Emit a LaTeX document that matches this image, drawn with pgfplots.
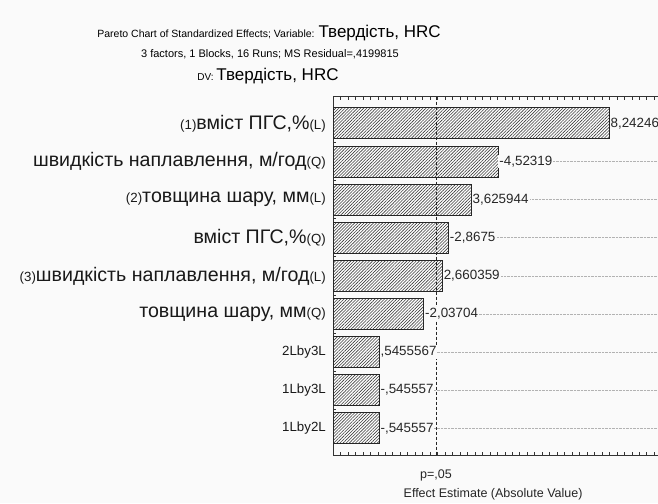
\documentclass[border=0pt]{standalone}
\usepackage{pgfplots}
\pgfplotsset{compat=1.18}
\usepackage{pgfplotstable}
\usetikzlibrary{patterns,patterns.meta}
\usepackage{fontspec}
\setmainfont{Liberation Sans}
\definecolor{bgc}{RGB}{250,250,250}
\definecolor{hatch}{RGB}{60,60,60}
\newcommand\sm[1]{{\fontsize{13.3pt}{14pt}\selectfont #1}}
\newcommand\Lg[1]{{\fontsize{19.6pt}{20pt}\selectfont #1}}
\pgfplotstableread{
pos v lab
1 8.24246 8,24246
2 4.52319 -4,52319
3 3.625944 3,625944
4 2.8675 -2,8675
5 2.660359 2,660359
6 2.03704 -2,03704
7 0.5455567 ,5455567
8 0.545557 -,545557
9 0.545557 -,545557
}\effects
\begin{document}
\begin{tikzpicture}[x=1pt,y=1pt]
\useasboundingbox (0,0) rectangle (658,503);
\fill[bgc] (0,0) rectangle (658,503);
% title
\node[anchor=base, inner sep=0pt] at (269,465) {\fontsize{10.5pt}{11pt}\selectfont Pareto Chart of Standardized Effects; Variable: \fontsize{17pt}{18pt}\selectfont Твердість, HRC};
\node[anchor=base, inner sep=0pt] at (270,445) {\fontsize{11pt}{12pt}\selectfont 3 factors, 1 Blocks, 16 Runs; MS Residual=,4199815};
\node[anchor=base, inner sep=0pt] at (268,422.5) {\fontsize{10pt}{11pt}\selectfont DV: \fontsize{17pt}{18pt}\selectfont Твердість, HRC};
\begin{axis}[
  at={(333pt,48pt)}, anchor=south west,
  scale only axis, width=328.7pt, height=358.3pt,
  xmin=0, xmax=11, ymin=0.3, ymax=9.7, y dir=reverse,
  clip=false,
  axis background/.style={fill=bgc},
  axis line style={black!80, line width=0.8pt},
  xtick={0,...,11}, minor x tick num=3, xticklabels={},
  ytick={1,...,9}, minor y tick num=3,
  tick align=inside, major tick length=3pt, minor tick length=3pt,
  tick style={black!80, line width=0.6pt},
  xtick pos=both, ytick pos=left,
  ymajorgrids, grid style={densely dotted, black!30, line width=0.5pt},
  yticklabels={
    {\sm{(1)}\Lg{вміст ПГС,\%}\sm{(L)}},
    {\Lg{швидкість наплавлення, м/год}\sm{(Q)}},
    {\sm{(2)}\Lg{товщина шару, мм}\sm{(L)}},
    {\Lg{вміст ПГС,\%}\sm{(Q)}},
    {\sm{(3)}\Lg{швидкість наплавлення, м/год}\sm{(L)}},
    {\Lg{товщина шару, мм}\sm{(Q)}},
    {\sm{2Lby3L}},{\sm{1Lby3L}},{\sm{1Lby2L}}},
  yticklabel style={anchor=east, inner sep=0pt, xshift=-7pt, text=black!90},
  xlabel={Effect Estimate (Absolute Value)},
  xlabel style={at={(rel axis cs:0.487,0)}, anchor=base, yshift=-42pt, font=\fontsize{12.5pt}{13pt}\selectfont, text=black!85},
]
\addplot[xbar, bar width=31pt, draw=black!85, line width=0.8pt, preaction={fill=white}, pattern={Lines[angle=45,distance=2.2pt,line width=0.6pt]}, pattern color=hatch,
  nodes near coords, point meta=explicit symbolic,
  every node near coord/.append style={anchor=west, inner sep=1pt, fill=bgc, font=\fontsize{13.4pt}{14pt}\selectfont, text=black!85}]
  table[x expr=\thisrow{v}+1, y=pos, meta=lab] {\effects};
\addplot[sharp plot, no marks, densely dashed, black!85, line width=0.7pt, forget plot] coordinates {(3.447,0.3) (3.447,9.7)};
\node[anchor=base, inner sep=0pt, font=\fontsize{12.5pt}{13pt}\selectfont, text=black!85] at ([yshift=-23pt]axis cs:3.447,9.7) {p=,05};
\end{axis}
\end{tikzpicture}
\end{document}
